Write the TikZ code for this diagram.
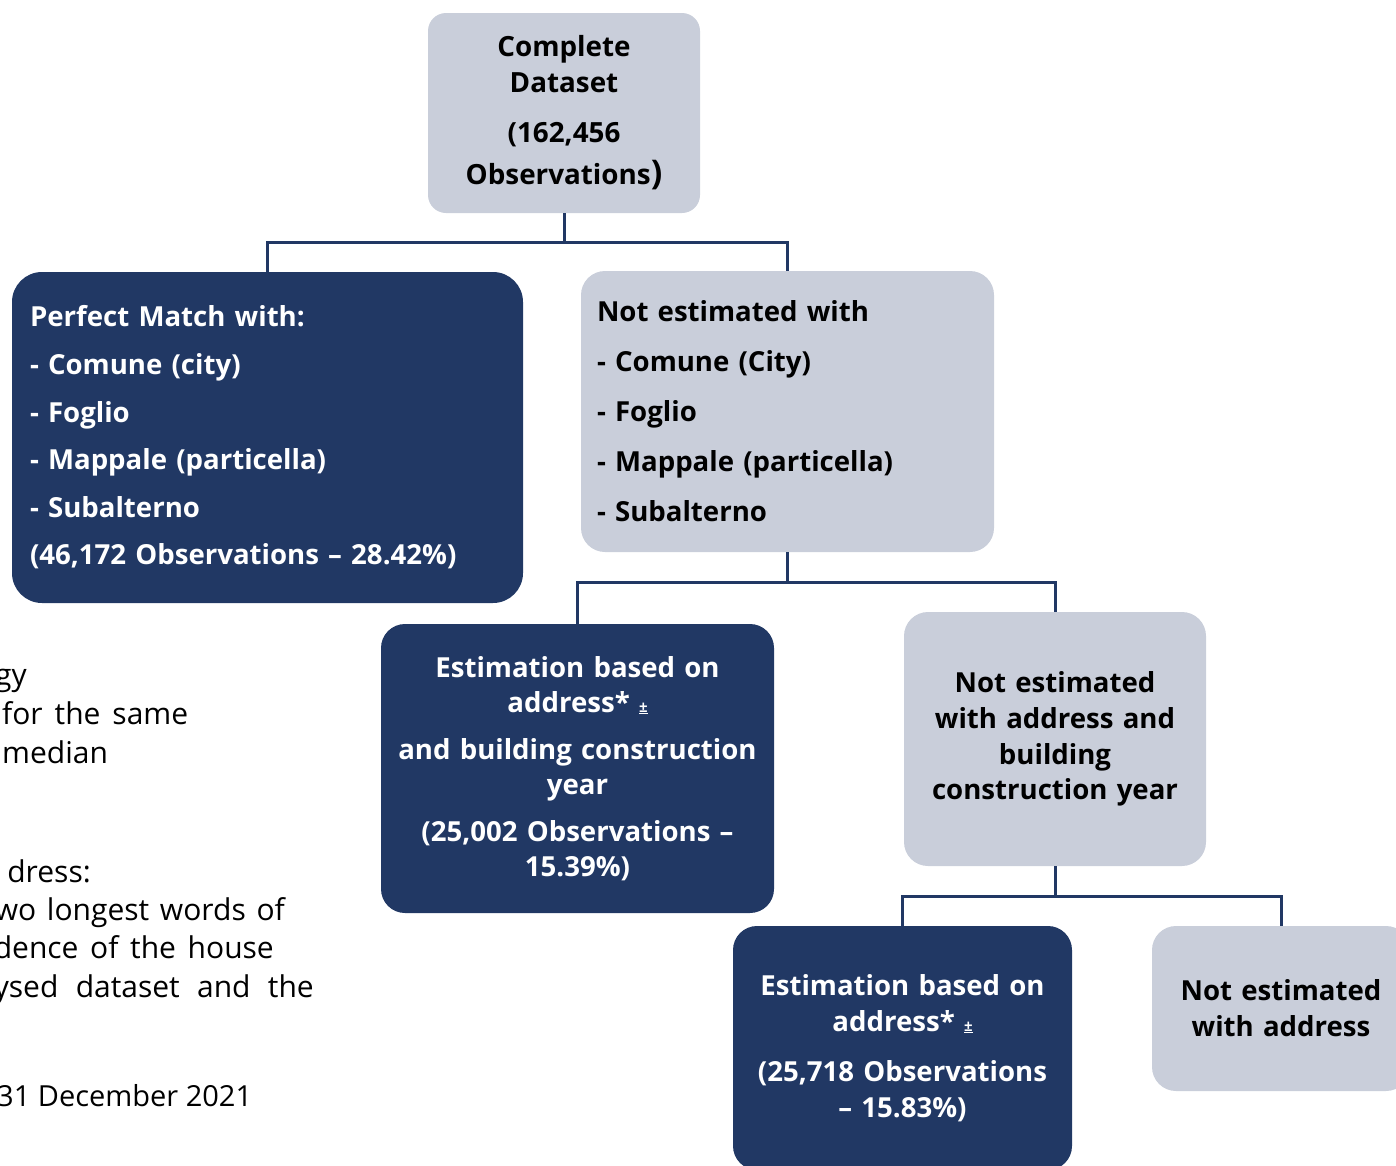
\documentclass[tikz,border=0pt]{standalone}
\usepackage{fontspec}
\setmainfont{Open Sans}
\definecolor{navy}{HTML}{213864}
\definecolor{paleb}{HTML}{C9CEDA}
\newcommand{\fsz}[2]{\fontsize{#1}{#2}\selectfont}
\newcommand{\plusmark}{{\fsz{15}{15}\underline{±}}}
\begin{document}
\begin{tikzpicture}[x=1pt,y=-1pt,
  box/.style={rounded corners=24pt, inner ysep=0pt, anchor=center},
  darkbox/.style={box, fill=navy, text=white},
  lightbox/.style={box, fill=paleb, text=black},
  link/.style={draw=navy, line width=3pt},
  frag/.style={inner sep=0pt, font=\fsz{30}{34}}]
\useasboundingbox (0,0) rectangle (1396,1165);

\node[lightbox, rounded corners=18pt, inner xsep=10pt, text width=252pt, minimum height=200pt, align=center,
      font=\bfseries\fsz{27.8}{36}] (top) at (564,113)
  {Complete\\Dataset\\[14pt](162,456\\[6pt]Observations{\fsz{34}{36})}};

\node[darkbox, rounded corners=30pt, inner xsep=18pt, text width=475pt, minimum height=331pt, align=left,
      font=\bfseries\fsz{27.6}{47.6}] (left) at (267.5,437.5)
  {Perfect Match with:\\- Comune (city)\\- Foglio\\- Mappale (particella)\\- Subalterno\\(46,172 Observations – 28.42\%)};

\node[lightbox, inner xsep=16pt, text width=381pt, minimum height=281pt, align=left,
      font=\bfseries\fsz{27.6}{50}] (right) at (787.5,411.5)
  {Not estimated with\\- Comune (City)\\- Foglio\\- Mappale (particella)\\- Subalterno};

\node[darkbox, inner xsep=8pt, text width=377pt, minimum height=289pt, align=center,
      font=\bfseries\fsz{27.6}{34.5}] (estA) at (577.5,768.5)
  {Estimation based on\\address* \plusmark\\[13pt]and building construction\\year\\[13pt](25,002 Observations –\\15.39\%)};

\node[lightbox, inner xsep=6pt, text width=290pt, minimum height=254pt, align=center,
      font=\bfseries\fsz{27.6}{35.7}] (notA) at (1055,739)
  {Not estimated\\with address and\\building\\construction year};

\node[darkbox, inner xsep=4pt, text width=331pt, minimum height=244pt, align=center,
      font=\bfseries\fsz{27.6}{35.5}] (estB) at (902.5,1048)
  {Estimation based on\\address* \plusmark\\[15pt](25,718 Observations\\– 15.83\%)};

\node[lightbox, inner xsep=4pt, text width=250pt, minimum height=165pt, align=center,
      font=\bfseries\fsz{27.6}{36}] (notB) at (1281,1008.5)
  {Not estimated\\with address};

\draw[link] (top.south) -- ++(0,29) -| (left.north);
\draw[link] (top.south) -- ++(0,29) -| (right.north);
\draw[link] (right.south) -- ++(0,30) -| (estA.north);
\draw[link] (right.south) -- ++(0,30) -| (notA.north);
\draw[link] (notA.south) -- ++(0,30) -| (estB.north);
\draw[link] (notA.south) -- ++(0,30) -| (notB.north);

\node[frag, anchor=base east] (f1) at (27,685) {gy};
\node[frag, anchor=base west] (f2) at (2,724) {\makebox[186pt][s]{for the same}};
\node[frag, anchor=base west] (f3) at (2,763) {median};
\node[frag, anchor=base east] (f4) at (91,882) {dress:};
\node[frag, anchor=base east] (f5) at (285,920) {\makebox[290pt][s]{wo longest words of}};
\node[frag, anchor=base east] (f6) at (274,958) {\makebox[280pt][s]{dence of the house}};
\node[frag, anchor=base east] (f7) at (314,997) {\makebox[320pt][s]{ysed dataset and the}};
\node[frag, anchor=base west, font=\fsz{29}{34}] (f8) at (-3,1106) {31 December 2021};
\end{tikzpicture}
\end{document}
